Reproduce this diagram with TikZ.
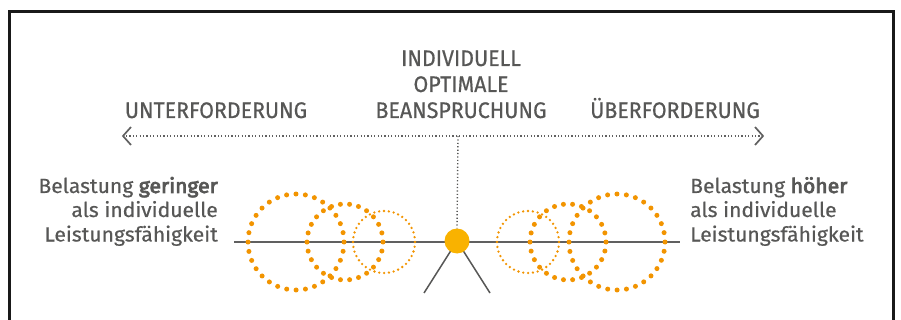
\documentclass[tikz,border=0pt]{standalone}
\usepackage{fontspec}
\setmainfont[FakeStretch=1.03, FakeBold=0.5,
  BoldFont={Fira Sans}, BoldFeatures={FakeBold=3.8}]{Fira Sans}
\newfontfamily\headfont[FakeStretch=0.95, FakeBold=0.6]{Fira Sans}
\definecolor{inkgray}{HTML}{575756}
\definecolor{rulegray}{HTML}{606060}
\definecolor{dotorange}{HTML}{F29400}
\definecolor{sunyellow}{HTML}{F9B200}

\begin{document}
\begin{tikzpicture}[x=1pt,y=-1pt,
  headlabel/.style={font=\headfont\fontsize{22.5}{26}\selectfont, text=inkgray, inner sep=0pt, anchor=base},
  bodylabel/.style={font=\fontsize{20.5}{24}\selectfont, text=inkgray, inner sep=0pt, anchor=base},
  scaleaxis/.style={draw=rulegray, line width=1.4pt, dash pattern=on 1.2pt off 2.2pt},
  chevron/.style={draw=rulegray, line width=1.7pt},
  baseline rule/.style={draw=rulegray, line width=2pt},
  legline/.style={draw=inkgray, line width=1.5pt},
  ball/.style={circle, fill=sunyellow, minimum size=25pt, inner sep=0pt},
  bigring/.style={draw=dotorange, line width=5pt, line cap=round, dash pattern=on 0pt off #1},
  finering/.style={draw=dotorange, line width=2.6pt, line cap=round, dash pattern=on 0pt off #1}
]
\useasboundingbox (0,0) rectangle (901,320);

% frame
\draw[line width=3pt, black!90] (9,330) -- (9,12) -- (893,12) -- (893,330);

% headings
\node[headlabel] (h1) at (461,66) {INDIVIDUELL};
\node[headlabel] (h2) at (461,92) {OPTIMALE};
\node[headlabel] (h3) at (461,118) {BEANSPRUCHUNG};
\node[headlabel] (under) at (216,118) {UNTERFORDERUNG};
\node[headlabel] (over) at (675,118) {ÜBERFORDERUNG};

% side descriptions
\node[bodylabel, anchor=base east] (l1) at (218,193) {Belastung \textbf{geringer}};
\node[bodylabel, anchor=base east] (l2) at (218,217) {als individuelle};
\node[bodylabel, anchor=base east] (l3) at (218,241.5) {Leistungsfähigkeit};
\node[bodylabel, anchor=base west] (r1) at (690,193) {Belastung \textbf{höher}};
\node[bodylabel, anchor=base west] (r2) at (690,217) {als individuelle};
\node[bodylabel, anchor=base west] (r3) at (690,241.5) {Leistungsfähigkeit};

% dotted scale with open arrow heads
\coordinate (axisL) at (123,136);
\coordinate (axisR) at (763,136);
\coordinate (axisM) at (458,136);
\draw[scaleaxis] ([xshift=3pt]axisL) -- ([xshift=-3pt]axisR);
\draw[chevron] ([xshift=8pt,yshift=9pt]axisL) -- (axisL) -- ([xshift=8pt,yshift=-9pt]axisL);
\draw[chevron] ([xshift=-8pt,yshift=9pt]axisR) -- (axisR) -- ([xshift=-8pt,yshift=-9pt]axisR);

% balance beam
\coordinate (beamL) at (234,241.5);
\coordinate (beamR) at (680,241.5);
\draw[baseline rule] (beamL) -- (beamR);

% dotted rings, left side
\draw[bigring=9.425pt] (296,242) circle [radius=48pt];
\draw[bigring=9.183pt] (345,242) circle [radius=38pt];
\draw[finering=4.87pt] (384,242) circle [radius=31pt];
% dotted rings, right side
\draw[finering=4.87pt] (528,242) circle [radius=31pt];
\draw[bigring=9.183pt] (568,242) circle [radius=38pt];
\draw[bigring=9.425pt] (617,242) circle [radius=48pt];

% pivot and stand
\coordinate (legL) at (424,293);
\coordinate (legR) at (490,293);
\draw[legline] (457,241) -- (legL);
\draw[legline] (457,241) -- (legR);
\node[ball] (pivot) at (457,241) {};
\draw[scaleaxis, draw=inkgray] (axisM) -- (pivot.north);
\end{tikzpicture}
\end{document}
